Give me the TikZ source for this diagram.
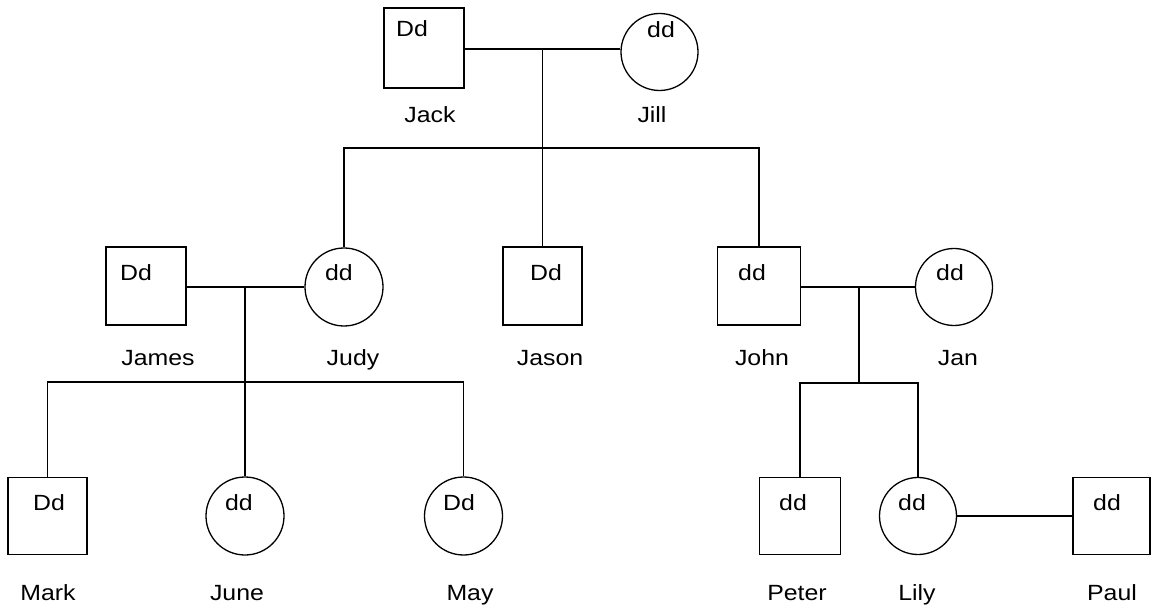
\documentclass[tikz,border=0pt]{standalone}
\usepackage{fontspec}
\setmainfont{Liberation Sans}[FakeStretch=1.13]
\begin{document}
\begin{tikzpicture}[x=1pt,y=-1pt,
  male/.style={draw, rectangle, minimum width=80pt, minimum height=78pt, inner sep=0pt, line width=1.3pt},
  female/.style={draw, circle, minimum size=78pt, inner sep=0pt, line width=1.3pt},
  txt/.style={anchor=base, inner sep=0pt, font=\fontsize{22}{24}\selectfont},
  link/.style={line width=1.3pt}]
\useasboundingbox (0,0) rectangle (1151,609);
% generation 1
\node[male, minimum height=80pt] (jack) at (424,48) {};
\node[female, minimum size=77pt] (jill) at (659.5,52) {};
% generation 2
\node[male] (james) at (146,286) {};
\node[female] (judy) at (344,287) {};
\node[male, minimum width=79pt] (jason) at (542.5,286) {};
\node[male, minimum width=83pt] (john) at (759,286) {};
\node[female, minimum size=77pt] (jan) at (954,287) {};
% generation 3
\node[male, minimum width=79pt, minimum height=77pt] (mark) at (47.5,516) {};
\node[female] (june) at (245,516) {};
\node[female] (may) at (463.5,516) {};
\node[male, minimum width=81pt, minimum height=77pt] (peter) at (800,516) {};
\node[female, minimum size=77pt] (lily) at (918,516) {};
\node[male, minimum width=77pt, minimum height=77pt] (paul) at (1111.5,516) {};
% junctions
\coordinate (m1) at (542.5,49);
\coordinate (s1) at (542.5,148);
\coordinate (m2) at (245,287);
\coordinate (s2) at (245,382);
\coordinate (m3) at (859,287);
\coordinate (s3) at (859,383);
% connectors
\draw[link] (jack.east |- m1) -- (m1) -- (m1 -| jill.west);
\draw[link] (m1) -- (jason.north);
\draw[link] (judy.north) -- (judy.north |- s1) -- (john.north |- s1) -- (john.north);
\draw[link] (james.east |- m2) -- (m2) -- (m2 -| judy.west);
\draw[link] (m2) -- (june.north);
\draw[link] (mark.north) -- (mark.north |- s2) -- (may.north |- s2) -- (may.north);
\draw[link] (john.east |- m3) -- (m3) -- (m3 -| jan.west);
\draw[link] (m3) -- (s3);
\draw[link] (peter.north) -- (peter.north |- s3) -- (lily.north |- s3) -- (lily.north);
\draw[link] (lily.east) -- (paul.west);
% genotypes
\node[txt] (jackG) at (412,37) {Dd};
\node[txt] (jillG) at (661,38) {dd};
\node[txt] (jamesG) at (136,281) {Dd};
\node[txt] (judyG) at (339,281) {dd};
\node[txt] (jasonG) at (546,281) {Dd};
\node[txt] (johnG) at (752,281) {dd};
\node[txt] (janG) at (950,281) {dd};
\node[txt] (markG) at (49,510) {Dd};
\node[txt] (juneG) at (239,510) {dd};
\node[txt] (mayG) at (459,510) {Dd};
\node[txt] (peterG) at (793,510) {dd};
\node[txt] (lilyG) at (912,510) {dd};
\node[txt] (paulG) at (1107,510) {dd};
% names
\node[txt] (jackN) at (430,123) {Jack};
\node[txt] (jillN) at (652,123) {Jill};
\node[txt] (jamesN) at (158,366) {James};
\node[txt] (judyN) at (353,366) {Judy};
\node[txt] (jasonN) at (550,366) {Jason};
\node[txt] (johnN) at (762,366) {John};
\node[txt] (janN) at (958,366) {Jan};
\node[txt] (markN) at (48,600) {Mark};
\node[txt] (juneN) at (237,600) {June};
\node[txt] (mayN) at (470,600) {May};
\node[txt] (peterN) at (797,600) {Peter};
\node[txt] (lilyN) at (917,600) {Lily};
\node[txt] (paulN) at (1112,600) {Paul};
\end{tikzpicture}
\end{document}
